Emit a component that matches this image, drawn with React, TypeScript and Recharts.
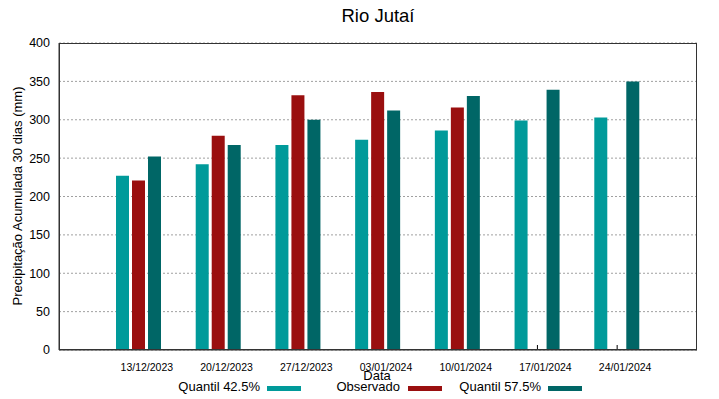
import { BarChart, Bar, XAxis, YAxis, CartesianGrid } from 'recharts';

const datas = ['13/12/2023', '20/12/2023', '27/12/2023', '03/01/2024', '10/01/2024', '17/01/2024', '24/01/2024'];
const quantil425 = [227, 242, 267, 274, 286, 299, 303];
const observado = [221, 279, 332, 336, 316, null, null];
const quantil575 = [252, 267, 300, 312, 331, 339, 350];
const yTicks = [0, 50, 100, 150, 200, 250, 300, 350, 400];

const COR_Q42 = '#009a9a';
const COR_OBS = '#9a0f0f';
const COR_Q57 = '#006666';

const FONT = '"Liberation Sans", Arial, sans-serif';

const data = datas.map((d, i) => ({
    data: d,
    q42: quantil425[i],
    obs: observado[i],
    q57: quantil575[i],
}));

// o tick fica escondido atras da barra do meio, so aparece quando nao tem observado
const DateTick = ({ x, y, payload, index }: any) => (
    <g>
        {observado[index] == null && (
            <line x1={x} x2={x} y1={y} y2={y - 5} stroke="#000" strokeWidth={1} />
        )}
        <text x={x + 8} y={y + 21} textAnchor="middle" fontSize={10.5} fill="#000" fontFamily={FONT}>
            {payload.value}
        </text>
    </g>
);

const legendItems = [
    { label: 'Quantil 42.5%', color: COR_Q42, textRight: 260, swatch: 267 },
    { label: 'Observado', color: COR_OBS, textRight: 400, swatch: 408 },
    { label: 'Quantil 57.5%', color: COR_Q57, textRight: 541, swatch: 548 },
];

export default function App() {
    return (
        <div style={{ position: 'absolute', left: 0, top: 0, width: 719, height: 399, background: '#fff', fontFamily: FONT }}>
            <BarChart
                width={719}
                height={399}
                data={data}
                margin={{ top: 43, right: 22, left: 0, bottom: 0 }}
                barSize={13}
                barGap={3}
            >
                <CartesianGrid vertical={false} stroke="#a0a0a0" strokeDasharray="2 2" />
                <XAxis
                    dataKey="data"
                    height={49}
                    padding={{ left: 40, right: 40 }}
                    axisLine={{ stroke: '#333' }}
                    tickLine={false}
                    tickSize={0}
                    tickMargin={0}
                    interval={0}
                    tick={<DateTick />}
                />
                <YAxis
                    width={59}
                    domain={[0, 400]}
                    ticks={yTicks}
                    axisLine={{ stroke: '#333' }}
                    tickLine={false}
                    tickSize={0}
                    tickMargin={9}
                    tick={{ fill: '#000', fontSize: 12.5, fontFamily: FONT }}
                />
                <Bar dataKey="q42" fill={COR_Q42} isAnimationActive={false} />
                <Bar dataKey="obs" fill={COR_OBS} isAnimationActive={false} />
                <Bar dataKey="q57" fill={COR_Q57} isAnimationActive={false} />
            </BarChart>

            {/* moldura do grafico */}
            <div style={{ position: 'absolute', left: 59, top: 43, width: 638, height: 307, border: '1px solid #333', boxSizing: 'border-box', pointerEvents: 'none' }} />

            <div style={{ position: 'absolute', left: 0, width: 756, top: 5, textAlign: 'center', fontSize: 18.5, color: '#000' }}>
                Rio Jutaí
            </div>

            <div
                style={{
                    position: 'absolute', left: 10, top: 196, width: 380, marginLeft: -190, marginTop: -8,
                    transform: 'translate(8px, 0) rotate(-90deg)', textAlign: 'center', fontSize: 13, color: '#000', lineHeight: '16px',
                }}
            >
                Precipitação Acumulada 30 dias (mm)
            </div>

            <div style={{ position: 'absolute', left: 0, width: 754, top: 368, textAlign: 'center', fontSize: 13, color: '#000', lineHeight: '16px' }}>
                Data
            </div>

            {legendItems.map((it) => (
                <div key={it.label}>
                    <div style={{ position: 'absolute', left: it.textRight - 200, width: 200, top: 379, textAlign: 'right', fontSize: 13, lineHeight: '16px', color: '#000' }}>
                        {it.label}
                    </div>
                    <div style={{ position: 'absolute', left: it.swatch, top: 386, width: 34, height: 5, background: it.color }} />
                </div>
            ))}
        </div>
    );
}
